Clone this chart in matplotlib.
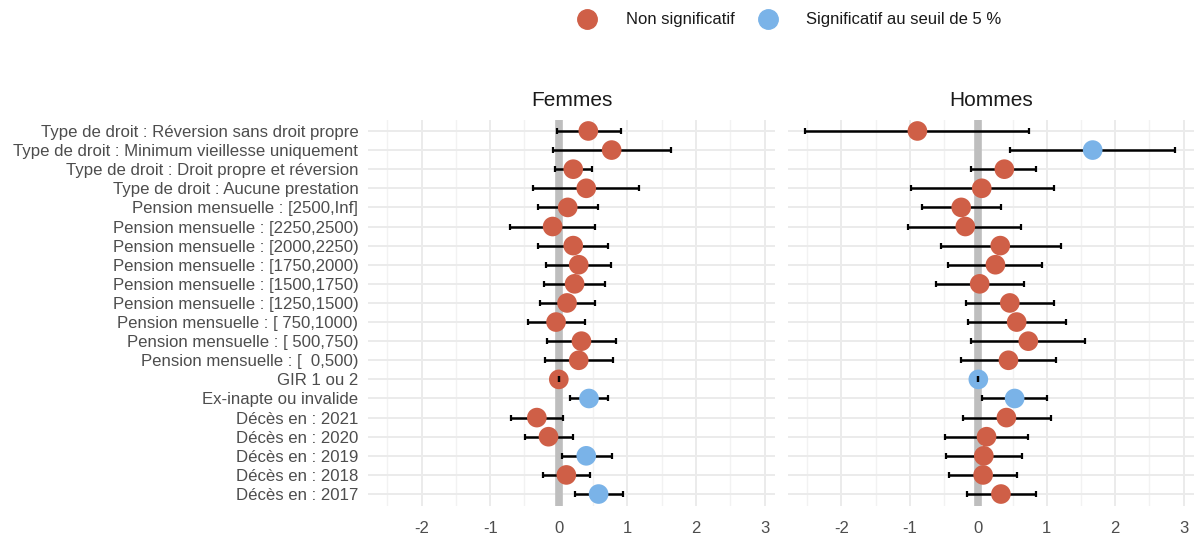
import numpy as np
import matplotlib
matplotlib.use("Agg")
import matplotlib.pyplot as plt
from matplotlib.lines import Line2D

plt.rcParams['font.family'] = ['Liberation Sans', 'DejaVu Sans']
plt.rcParams['axes.unicode_minus'] = False

labels = [
    "Type de droit : Réversion sans droit propre",
    "Type de droit : Minimum vieillesse uniquement",
    "Type de droit : Droit propre et réversion",
    "Type de droit : Aucune prestation",
    "Pension mensuelle : [2500,Inf]",
    "Pension mensuelle : [2250,2500)",
    "Pension mensuelle : [2000,2250)",
    "Pension mensuelle : [1750,2000)",
    "Pension mensuelle : [1500,1750)",
    "Pension mensuelle : [1250,1500)",
    "Pension mensuelle : [ 750,1000)",
    "Pension mensuelle : [ 500,750)",
    "Pension mensuelle : [  0,500)",
    "GIR 1 ou 2",
    "Ex-inapte ou invalide",
    "Décès en : 2021",
    "Décès en : 2020",
    "Décès en : 2019",
    "Décès en : 2018",
    "Décès en : 2017",
]

# Femmes
f_est = [0.43, 0.77, 0.21, 0.40, 0.13, -0.09, 0.21, 0.29, 0.23, 0.12,
         -0.04, 0.33, 0.29, 0.0, 0.44, -0.32, -0.15, 0.40, 0.11, 0.58]
f_low = [-0.02, -0.08, -0.05, -0.37, -0.30, -0.71, -0.30, -0.18, -0.22, -0.28,
         -0.45, -0.17, -0.20, 0.0, 0.16, -0.70, -0.49, 0.04, -0.23, 0.24]
f_high = [0.90, 1.63, 0.49, 1.17, 0.57, 0.53, 0.72, 0.76, 0.67, 0.53,
          0.38, 0.83, 0.79, 0.0, 0.71, 0.06, 0.21, 0.77, 0.45, 0.93]
f_sig = [0, 0, 0, 0, 0, 0, 0, 0, 0, 0, 0, 0, 0, 0, 1, 0, 0, 1, 0, 1]

# Hommes
h_est = [-0.89, 1.67, 0.38, 0.05, -0.25, -0.19, 0.32, 0.25, 0.02, 0.46,
         0.56, 0.73, 0.44, 0.0, 0.53, 0.41, 0.12, 0.08, 0.07, 0.33]
h_low = [-2.53, 0.46, -0.10, -0.98, -0.83, -1.02, -0.54, -0.44, -0.62, -0.18,
         -0.15, -0.11, -0.25, 0.0, 0.05, -0.23, -0.48, -0.47, -0.43, -0.16]
h_high = [0.74, 2.87, 0.84, 1.11, 0.33, 0.63, 1.21, 0.93, 0.67, 1.11,
          1.28, 1.56, 1.13, 0.0, 1.00, 1.06, 0.72, 0.64, 0.57, 0.84]
h_sig = [0, 1, 0, 0, 0, 0, 0, 0, 0, 0, 0, 0, 0, 1, 1, 0, 0, 0, 0, 0]

red = "#CF5F47"
blue = "#7AB3E8"
grey_txt = "#4D4D4D"

fig = plt.figure(figsize=(11.94, 5.36), dpi=100)
W, H = 1194, 536
bottom = 1 - 505.5 / H
height = (505.5 - 119.5) / H
ax1 = fig.add_axes([368 / W, bottom, (775 - 368) / W, height])
ax2 = fig.add_axes([788 / W, bottom, (1194 - 788) / W, height])

y = np.arange(len(labels))

def panel(ax, est, low, high, sig, title):
    est = np.array(est)
    low = np.array(low)
    high = np.array(high)
    ax.set_axisbelow(True)
    ax.set_xlim(-2.78, 3.15)
    ax.set_ylim(len(labels) - 0.4, -0.6)
    ax.set_xticks([-2, -1, 0, 1, 2, 3])
    ax.set_xticks([-2.5, -1.5, -0.5, 0.5, 1.5, 2.5], minor=True)
    ax.set_yticks(y)
    ax.grid(which='major', color="#EBEBEB", lw=1.4)
    ax.grid(which='minor', axis='x', color="#F2F2F2", lw=1.0)
    ax.axvline(0, color="#BEBEBE", lw=5.5, zorder=1.5)
    for s in ax.spines.values():
        s.set_visible(False)
    ax.tick_params(length=0, labelsize=12, labelcolor=grey_txt)
    ax.tick_params(axis='x', pad=11)
    ax.tick_params(axis='y', pad=7)
    ax.tick_params(which='minor', length=0)
    eb = ax.errorbar(est, y, xerr=[est - low, high - est], fmt='none',
                     ecolor='black', elinewidth=1.8, capsize=2, capthick=1.6,
                     zorder=2)
    for c in eb[1]:
        c.set_zorder(4)
    cols = [blue if s else red for s in sig]
    ax.scatter(est, y, s=200, c=cols, zorder=3, linewidths=0)
    ax.set_title(title, fontsize=15, color="#1A1A1A", pad=10)

panel(ax1, f_est, f_low, f_high, f_sig, "Femmes")
panel(ax2, h_est, h_low, h_high, h_sig, "Hommes")
ax1.set_yticklabels(labels, fontsize=12.1)
ax2.set_yticklabels([])

handles = [
    Line2D([], [], marker='o', ls='none', color=red, markersize=14),
    Line2D([], [], marker='o', ls='none', color=blue, markersize=14),
]
fig.legend(handles, ["Non significatif", "Significatif au seuil de 5 %"],
           loc='center', bbox_to_anchor=(786 / W, 1 - 20 / H), ncol=2,
           frameon=False, fontsize=12, handletextpad=1.3, columnspacing=1.0,
           labelcolor="#1A1A1A")

fig.savefig("out.png", dpi=100)
